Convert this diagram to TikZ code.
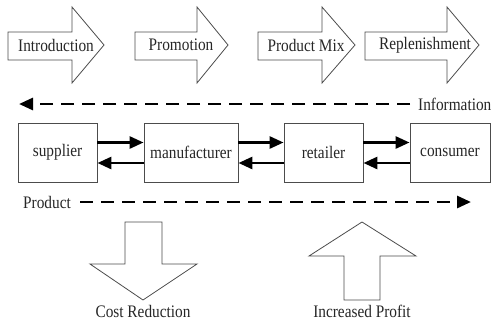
\documentclass[tikz,border=0pt]{standalone}
\usepackage{fontspec}
\usepackage{graphicx}
\setmainfont{Liberation Serif}
\usetikzlibrary{arrows.meta}
\newcommand{\cond}[1]{\scalebox{0.87}[1]{#1}}
\begin{document}
\begin{tikzpicture}[x=1pt,y=-1pt,
  bigarrow/.style={draw=black!70,line width=0.8pt,fill=white},
  lbl/.style={font=\fontsize{17.6}{19}\selectfont,text=black!85,inner sep=0pt},
  box/.style={draw=black!70,line width=0.9pt,minimum height=59pt,inner sep=0pt,font=\fontsize{17.6}{19}\selectfont,text=black!85},
  flow/.style={line width=2.8pt,-{Triangle[length=14pt,width=12pt]}},
  dashflow/.style={line width=2.8pt,dash pattern=on 13pt off 8pt,-{Triangle[length=14pt,width=12pt]}}]
\useasboundingbox (0,0) rectangle (492,327);
% top arrows
\foreach \a/\b/\c in {8/72/104,135/197/228,258/322/355,365/447/479}{
  \draw[bigarrow] (\a,32) -- (\b,32) -- (\b,7) -- (\c,45) -- (\b,83) -- (\b,60) -- (\a,60) -- cycle;
}
\node[lbl] (intro) at (56,45) {\cond{Introduction}};
\node[lbl] (promo) at (181,45) {\cond{Promotion}};
\node[lbl] (mix) at (306,45) {\cond{Product Mix}};
\node[lbl] (repl) at (425,45) {\cond{Replenishment}};
% information
\node[lbl,anchor=west] (info) at (418,104) {\cond{Information}};
\coordinate (infoend) at (19,104);
\draw[dashflow] (410,104) -- (infoend);
% boxes
\node[box,minimum width=79pt] (sup) at (57.5,152.5) {\cond{supplier}};
\node[box,minimum width=94pt] (man) at (191,152.5) {\cond{manufacturer}};
\node[box,minimum width=79pt] (ret) at (323.5,152.5) {\cond{retailer}};
\node[box,minimum width=80pt] (con) at (450,152.5) {\cond{consumer}};
\foreach \p/\q in {sup/man,man/ret,ret/con}{
  \draw[flow] ([yshift=10pt]\p.east) -- ([yshift=10pt]\q.west);
  \draw[flow] ([yshift=-10.5pt]\q.west) -- ([yshift=-10.5pt]\p.east);
}
% product
\node[lbl] (prod) at (47,202) {\cond{Product}};
\coordinate (prodend) at (471,202);
\draw[dashflow] (80,202) -- (prodend);
% bottom arrows
\draw[bigarrow] (125,222) -- (162,222) -- (162,264) -- (197,264) -- (143,300) -- (90,264) -- (125,264) -- cycle;
\node[lbl] (cost) at (143,311) {\cond{Cost Reduction}};
\draw[bigarrow] (362,222) -- (416,256) -- (380,256) -- (380,300) -- (344,300) -- (344,256) -- (309,256) -- cycle;
\node[lbl] (profit) at (362,311) {\cond{Increased Profit}};
\end{tikzpicture}
\end{document}
